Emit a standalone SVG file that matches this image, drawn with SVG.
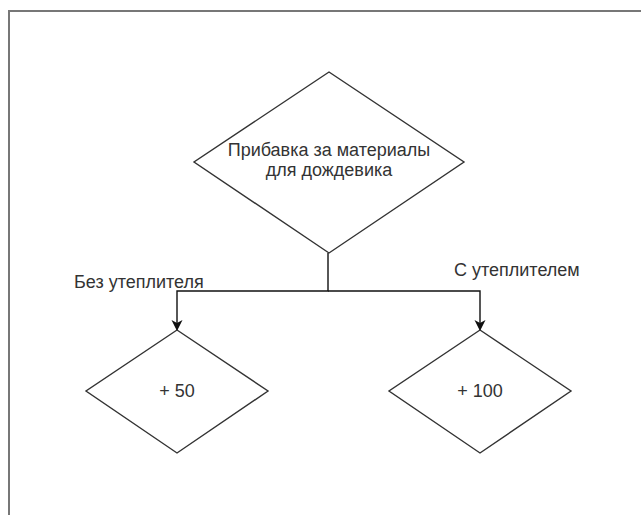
<svg xmlns="http://www.w3.org/2000/svg" width="641" height="515" viewBox="0 0 641 515">
<style>
.shape{fill:#fff;stroke:#333;stroke-width:1.4}
.edge{fill:none;stroke:#111;stroke-width:1.4}
.t{font-family:"Liberation Sans",Arial,sans-serif;font-size:18px;fill:#333;text-anchor:middle}
.lbl{font-family:"Liberation Sans",Arial,sans-serif;font-size:18px;fill:#333}
</style>
<defs>
<marker id="arr" markerWidth="11" markerHeight="12" refX="10" refY="5.5" orient="auto" markerUnits="userSpaceOnUse">
<path d="M0,0 L11,5.5 L0,11 L3,5.5 Z" fill="#111"/>
</marker>
</defs>
<rect x="0" y="0" width="641" height="515" fill="#fff"/>
<path d="M9,515 V11 H641" fill="none" stroke="#777" stroke-width="2"/>
<g id="connectors">
<path class="edge" d="M328,253 V291 H177 V330" marker-end="url(#arr)"/>
<path class="edge" d="M328,291 H480 V330" marker-end="url(#arr)"/>
<text class="lbl" x="74" y="288">Без утеплителя</text>
<text class="lbl" x="454" y="276">С утеплителем</text>
</g>
<g id="main">
<polygon class="shape" points="329,72 464,162 329,253 194,162"/>
<text class="t" x="329" y="156">Прибавка за материалы</text>
<text class="t" x="329" y="176">для дождевика</text>
</g>
<g id="plus50">
<polygon class="shape" points="177,330 268,391 177,453 86,391"/>
<text class="t" x="177" y="397">+ 50</text>
</g>
<g id="plus100">
<polygon class="shape" points="480,330 571,391 480,453 389,391"/>
<text class="t" x="480" y="397">+ 100</text>
</g>
</svg>
